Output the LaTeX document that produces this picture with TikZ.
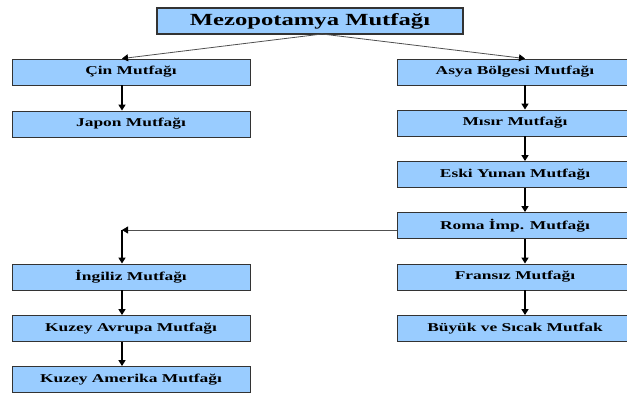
\documentclass[tikz,border=0pt]{standalone}
\usepackage{fontspec}
\newfontfamily\boxfont{Liberation Serif}[FakeStretch=1.45]
\usetikzlibrary{arrows.meta}
\definecolor{boxblue}{RGB}{153,204,255}
\definecolor{edgegray}{RGB}{80,80,80}
\begin{document}
\begin{tikzpicture}[x=1pt,y=-1pt,
  cuisine/.style={draw=black!80,line width=0.9pt,fill=boxblue,inner sep=0pt,
    minimum height=26pt,text=black,
    font=\boxfont\bfseries\fontsize{12}{14}\selectfont},
  leftbox/.style={cuisine,minimum width=238pt},
  rightbox/.style={cuisine,minimum width=236pt},
  thickarrow/.style={-{Triangle[width=7pt,length=6pt]},line width=1.5pt,black},
  thinarrow/.style={-{Triangle[width=7pt,length=6pt,color=black]},line width=0.8pt,edgegray}]
\useasboundingbox (0,0) rectangle (627,392);
\clip (0,0) rectangle (627,392);

% root
\node[cuisine,minimum width=306pt,line width=1.1pt,
  font=\boxfont\bfseries\fontsize{17}{20}\selectfont] (mezo) at (310,21) {Mezopotamya Mutfağı};

% left branch
\node[leftbox] (cin)   at (131,72)  {Çin Mutfağı};
\node[leftbox] (japon) at (131,124) {Japon Mutfağı};

% right branch
\node[rightbox] (asya)  at (515,72)    {Asya Bölgesi Mutfağı};
\node[rightbox] (misir) at (515,123)   {Mısır Mutfağı};
\node[rightbox] (eski)  at (515,174.5) {Eski Yunan Mutfağı};
\node[rightbox] (roma)  at (515,225.5) {Roma İmp. Mutfağı};
\node[rightbox] (fransiz) at (515,277) {Fransız Mutfağı};
\node[rightbox] (buyuk)   at (515,328.5) {Büyük ve Sıcak Mutfak};

% european branch
\node[leftbox] (ingiliz)  at (131,277)   {İngiliz Mutfağı};
\node[leftbox] (kavrupa)  at (131,328.5) {Kuzey Avrupa Mutfağı};
\node[leftbox] (kamerika) at (131,379.5) {Kuzey Amerika Mutfağı};

% connector guides
\coordinate (split) at (322,34);
\coordinate (lcol) at (122,0);
\coordinate (rcol) at (525,0);
\coordinate (corner) at (122,230);

% root splits into two
\draw[thinarrow] (split) -- (cin.north -| lcol);
\draw[thinarrow] (split) -- (asya.north -| rcol);

% vertical chains
\draw[thickarrow] (cin.south -| lcol) -- (japon.north -| lcol);
\draw[thickarrow] (asya.south -| rcol) -- (misir.north -| rcol);
\draw[thickarrow] (misir.south -| rcol) -- (eski.north -| rcol);
\draw[thickarrow] (eski.south -| rcol) -- (roma.north -| rcol);
\draw[thickarrow] (roma.south -| rcol) -- (fransiz.north -| rcol);
\draw[thickarrow] (fransiz.south -| rcol) -- (buyuk.north -| rcol);

% Roma to England
\draw[thinarrow] (roma.west |- corner) -- (corner);
\draw[thickarrow] (corner) -- (ingiliz.north -| lcol);
\draw[thickarrow] (ingiliz.south -| lcol) -- (kavrupa.north -| lcol);
\draw[thickarrow] (kavrupa.south -| lcol) -- (kamerika.north -| lcol);
\end{tikzpicture}
\end{document}
